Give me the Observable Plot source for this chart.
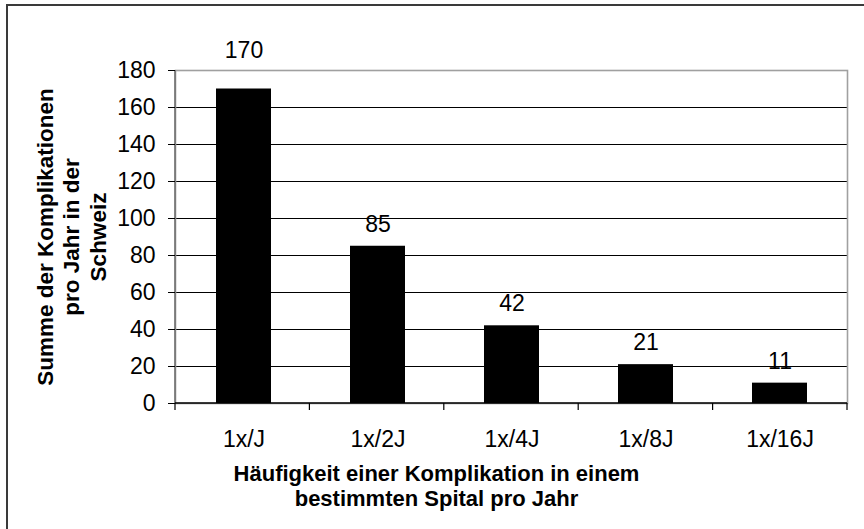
<!DOCTYPE html>
<html><head><meta charset="utf-8">
<script src="https://cdn.jsdelivr.net/npm/d3@7"></script>
<script src="https://cdn.jsdelivr.net/npm/@observablehq/plot@0.6"></script>
<style>
html,body{margin:0;padding:0;background:#fff;}
#wrap{position:relative;width:864px;height:529px;overflow:hidden;background:#fff;}
#border{position:absolute;left:6px;top:4px;width:900px;height:600px;border-top:2px solid #3a3a3a;border-left:2px solid #3a3a3a;}
#wrap svg{position:absolute;left:0;top:0;}
</style></head><body><div id="wrap"><div id="border"></div></div>
<script>
const categories = ["1x/J", "1x/2J", "1x/4J", "1x/8J", "1x/16J"];
const values = [170, 85, 42, 21, 11];
const yTicks = [0, 20, 40, 60, 80, 100, 120, 140, 160, 180];
const yTitle = "Summe der Komplikationen\npro Jahr in der\nSchweiz";
const xTitle = "Häufigkeit einer Komplikation in einem\nbestimmten Spital pro Jahr";

const data = categories.map((c, i) => ({cat: c, value: values[i], first: i === 0}));
const W = 864, H = 529, ml = 175, mr = 17, mt = 70, mb = 126;
const font = "'Liberation Sans', Arial, Helvetica, sans-serif";

function axisLines(index, scales, vals, dims) {
  const g = d3.create("svg:g");
  const y0 = scales.y(0);
  const left = dims.marginLeft, right = dims.width - dims.marginRight, top = dims.marginTop;
  const n = categories.length;
  const step = (right - left) / n;
  g.append("line").attr("x1", left).attr("x2", left).attr("y1", top).attr("y2", y0)
    .attr("stroke", "#707070").attr("stroke-width", 1.6);
  for (let i = 0; i <= n; i++) {
    const x = left + i * step;
    g.append("line").attr("x1", x).attr("x2", x).attr("y1", y0).attr("y2", y0 + 7)
      .attr("stroke", "#000").attr("stroke-width", 1.2);
  }
  g.append("line").attr("x1", left).attr("x2", right).attr("y1", y0).attr("y2", y0)
    .attr("stroke", "#000").attr("stroke-width", 1.5);
  return g.node();
}

const chart = Plot.plot({
  width: W, height: H,
  marginLeft: ml, marginRight: mr, marginTop: mt, marginBottom: mb,
  style: {fontFamily: font, fontSize: "23px", color: "#000", background: "transparent"},
  x: {domain: categories, paddingInner: 0.59, paddingOuter: 0.295, align: 0.5},
  y: {domain: [0, 180]},
  marks: [
    Plot.gridY(yTicks.filter(t => t > 0 && t < 180), {stroke: "#000", strokeOpacity: 1, strokeWidth: 1.2}),
    Plot.frame({stroke: "#a0a0a0", strokeWidth: 1.6}),
    Plot.barY(data, {x: "cat", y: "value", fill: "#000"}),
    axisLines,
    Plot.axisY({ticks: yTicks, tickSize: 7, tickPadding: 13, fontSize: 23, label: null, stroke: "#000"}),
    Plot.axisX({tickSize: 0, tickPadding: 27, fontSize: 23, label: null}),
    Plot.text(data.filter(d => !d.first), {x: "cat", y: "value", text: d => String(d.value), dy: -22, fontSize: 23}),
    Plot.text(data.filter(d => d.first), {x: "cat", y: "value", text: d => String(d.value), dy: -38, fontSize: 23}),
    Plot.text([yTitle], {text: d => d, frameAnchor: "left", rotate: -90, fontWeight: "bold", fontSize: 22.5,
      lineAnchor: "top", lineHeight: 1.178, textAnchor: "middle", dx: -141.8}),
    Plot.text([xTitle], {text: d => d, frameAnchor: "bottom", fontWeight: "bold", fontSize: 22,
      lineAnchor: "top", lineHeight: 1.14, textAnchor: "middle", dx: -75, dy: 59.2})
  ]
});
document.getElementById("wrap").appendChild(chart);
</script>
</body></html>
